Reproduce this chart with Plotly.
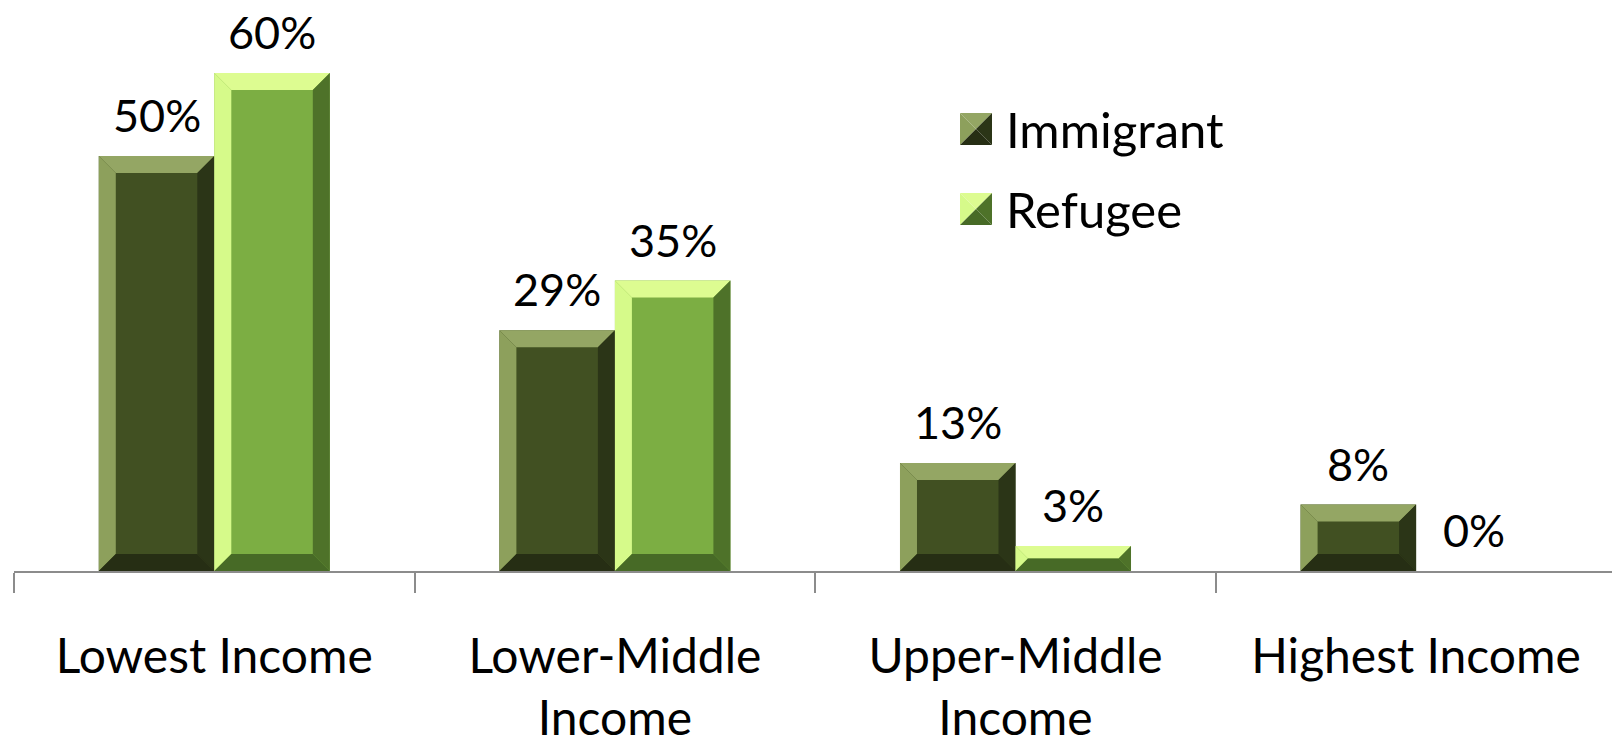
import plotly.graph_objects as go

# ---- data ----
categories = ["Lowest Income", "Lower-Middle<br>Income", "Upper-Middle<br>Income", "Highest Income"]
series_names = ["Immigrant", "Refugee"]
immigrant = [50, 29, 13, 8]
refugee = [60, 35, 3, 0]

# ---- styling ----
FONT = "Lato"
W, H = 1612, 743
M_L, M_R, M_T, M_B = 14, 0, 20, 172
PX_PER_CAT = 400.6
PX_PER_PCT = 8.3
BARGAP = 0.4233
BEVEL_PX = 17

# face, top, left, right, bottom colours per series
palette = {
    "Immigrant": dict(face="#415022", top="#94a664", left="#8da05c", right="#2b3517", bottom="#262e14"),
    "Refugee": dict(face="#7cae43", top="#ddfc91", left="#d6fa8a", right="#4e7229", bottom="#476a26"),
}

plot_w = W - M_L - M_R
plot_h = H - M_T - M_B
x_range = [-0.5, -0.5 + plot_w / PX_PER_CAT]
y_range = [0, plot_h / PX_PER_PCT]

bar_w = (1 - BARGAP) / 2
xs = list(range(len(categories)))

fig = go.Figure()

for k, (name, vals) in enumerate(zip(series_names, [immigrant, refugee])):
    c = palette[name]
    offs = (k - 0.5) * bar_w
    fig.add_trace(go.Bar(
        x=xs, y=vals, name=name, width=bar_w, offset=offs - bar_w / 2,
        marker=dict(color=c["face"], line=dict(width=0)),
        showlegend=False,
    ))
    # bevel facets built from each bar's value
    polys = {"top": ([], []), "left": ([], []), "right": ([], []), "bottom": ([], [])}
    for i, v in zip(xs, vals):
        if v <= 0:
            continue
        x0 = i + offs - bar_w / 2
        x1 = i + offs + bar_w / 2
        y0, y1 = 0, v
        h_px = v * PX_PER_PCT
        w_px = bar_w * PX_PER_CAT
        b = min(BEVEL_PX, h_px / 2, w_px / 2)
        bx = b / PX_PER_CAT
        by = b / PX_PER_PCT
        shapes = {
            "top": [(x0, y1), (x1, y1), (x1 - bx, y1 - by), (x0 + bx, y1 - by)],
            "left": [(x0, y0), (x0, y1), (x0 + bx, y1 - by), (x0 + bx, y0 + by)],
            "right": [(x1, y0), (x1, y1), (x1 - bx, y1 - by), (x1 - bx, y0 + by)],
            "bottom": [(x0, y0), (x1, y0), (x1 - bx, y0 + by), (x0 + bx, y0 + by)],
        }
        for side, pts in shapes.items():
            px, py = polys[side]
            px.extend([p[0] for p in pts] + [pts[0][0], None])
            py.extend([p[1] for p in pts] + [pts[0][1], None])
    for side, (px, py) in polys.items():
        fig.add_trace(go.Scatter(
            x=px, y=py, mode="lines", fill="toself", fillcolor=c[side],
            line=dict(width=0, color=c[side]), hoverinfo="skip", showlegend=False,
        ))
    # value labels
    for i, v in zip(xs, vals):
        fig.add_annotation(
            x=i + offs, y=v, text=f"{v}%", showarrow=False,
            yanchor="middle", yshift=41,
            font=dict(family=FONT, size=45, color="#000000"),
        )

# legend: bevelled squares with labels
def px_to_paper(px, py):
    return (px - M_L) / plot_w, (H - M_B - py) / plot_h

leg_items = [("Immigrant", 129), ("Refugee", 209)]
icon = 32
icon_x0 = 960
for name, cy in leg_items:
    c = palette[name]
    x0, x1 = icon_x0, icon_x0 + icon
    y0, y1 = cy - icon / 2, cy + icon / 2
    cx, cyy = (x0 + x1) / 2, cy
    tris = {
        "top": [(x0, y0), (x1, y0), (cx, cyy)],
        "left": [(x0, y0), (x0, y1), (cx, cyy)],
        "right": [(x1, y0), (x1, y1), (cx, cyy)],
        "bottom": [(x0, y1), (x1, y1), (cx, cyy)],
    }
    for side, pts in tris.items():
        pp = [px_to_paper(*p) for p in pts]
        path = "M " + " L ".join(f"{a:.5f},{b:.5f}" for a, b in pp) + " Z"
        fig.add_shape(type="path", path=path, xref="paper", yref="paper",
                      fillcolor=c[side], line=dict(width=0), layer="above")
    tx, ty = px_to_paper(x1 + 12, cy)
    fig.add_annotation(x=tx, y=ty, xref="paper", yref="paper", text=name,
                       showarrow=False, xanchor="left", yanchor="middle",
                       font=dict(family=FONT, size=49, color="#000000"))

fig.update_layout(
    width=W, height=H,
    margin=dict(l=M_L, r=M_R, t=M_T, b=M_B),
    paper_bgcolor="white", plot_bgcolor="white",
    barmode="overlay",
    showlegend=False,
    xaxis=dict(
        range=x_range, tickmode="array", tickvals=xs, ticktext=categories,
        ticks="", showgrid=False, zeroline=False, automargin=False,
        showline=True, linecolor="#8c8c8c", linewidth=2,
        tickfont=dict(family=FONT, size=48, color="#000000"),
        ticklabelstandoff=42,
        minor=dict(tickmode="array", tickvals=[i - 0.5 for i in range(len(categories) + 1)],
                   ticks="outside", ticklen=20, tickcolor="#8c8c8c", tickwidth=1.5),
        fixedrange=True,
    ),
    yaxis=dict(range=y_range, visible=False, fixedrange=True, automargin=False),
)

fig.write_html("out.html")
